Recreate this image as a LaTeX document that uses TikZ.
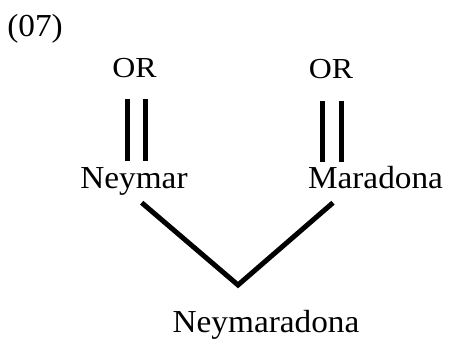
\documentclass[tikz,border=0pt]{standalone}
\usepackage{fontspec}
\setmainfont{Liberation Serif}
\begin{document}
\begin{tikzpicture}[x=1pt,y=-1pt,
  lbl/.style={anchor=base,inner sep=0pt,font=\fontsize{32}{36}\selectfont},
  orlbl/.style={anchor=base,inner sep=0pt,font=\fontsize{29}{33}\selectfont},
  bar/.style={line width=5pt},
  link/.style={line width=5pt,line join=miter}]
\useasboundingbox (0,0) rectangle (449,338);
% labels
\node[lbl,xscale=1.04] (num) at (35,36) {(07)};
\node[orlbl,xscale=1.1] (orl) at (134.5,77) {OR};
\node[orlbl,xscale=1.1] (orr) at (331,78.5) {OR};
\node[lbl,xscale=1.04] (ney) at (134,188) {Neymar};
\node[lbl,xscale=1.04] (mar) at (375.5,188) {Maradona};
\node[lbl,xscale=1.04] (blend) at (266,332) {Neymaradona};
% double bars under each OR
\coordinate (l1a) at (127.5,99);  \coordinate (l1b) at (127.5,161);
\coordinate (l2a) at (145.5,99);  \coordinate (l2b) at (145.5,161);
\coordinate (r1a) at (322.5,101); \coordinate (r1b) at (322.5,162);
\coordinate (r2a) at (341.5,101); \coordinate (r2b) at (341.5,162);
\draw[bar] (l1a) -- (l1b);
\draw[bar] (l2a) -- (l2b);
\draw[bar] (r1a) -- (r1b);
\draw[bar] (r2a) -- (r2b);
% the V joining both names
\coordinate (vl) at (141.7,202.7);
\coordinate (vm) at (238,285);
\coordinate (vr) at (333,202.7);
\draw[link] (vl) -- (vm) -- (vr);
\end{tikzpicture}
\end{document}
